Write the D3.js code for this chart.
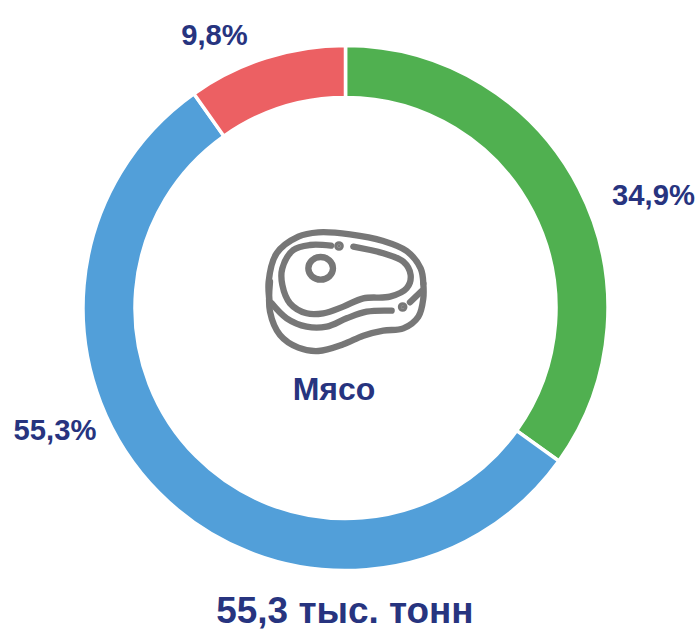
<!DOCTYPE html>
<html><head><meta charset="utf-8">
<script src="https://cdn.jsdelivr.net/npm/d3@7"></script>
<style>html,body{margin:0;padding:0;background:#fff}svg{display:block}text{font-family:"Liberation Sans",Arial,sans-serif;font-weight:700;fill:#27347f}</style>
</head><body><svg id="c" width="697" height="629"></svg>
<script>
const categories = ["A","B","C"];
const values = [34.9,55.3,9.8];
const valueLabels = ["34,9%","55,3%","9,8%"];
const colors = ["#50b050","#529fd9","#ec6063"];
const title = "55,3 тыс. тонн";
const centerLabel = "Мясо";

const svg = d3.select("#c");
const g = svg.append("g").attr("transform","translate(345.5,308)");
const pie = d3.pie().sort(null).value(d=>d)(values);
const arc = d3.arc().innerRadius(210.5).outerRadius(262.5);
g.selectAll("path").data(pie).join("path").attr("d",arc)
 .attr("fill",(d,i)=>colors[i]).attr("stroke","#fff").attr("stroke-width",3.5);

const labelPos = [[653.5,195],[55,430],[214.5,35]];
svg.selectAll("text.v").data(valueLabels).join("text").attr("class","v")
 .attr("x",(d,i)=>labelPos[i][0]).attr("y",(d,i)=>labelPos[i][1])
 .attr("text-anchor","middle").attr("dominant-baseline","central")
 .attr("font-size",29.2).text(d=>d);
svg.append("text").attr("x",334).attr("y",389).attr("text-anchor","middle").attr("dominant-baseline","central").attr("font-size",32).text(centerLabel);
svg.append("text").attr("x",345).attr("y",610).attr("text-anchor","middle").attr("dominant-baseline","central").attr("font-size",36.9).text(title);

// icon, traced in zoom-crop units
const icon = svg.append("g").attr("transform","translate(250,215) scale(0.3333)")
 .attr("fill","none").attr("stroke","#777").attr("stroke-width",19).attr("stroke-linecap","round");
const L = d3.line().curve(d3.curveCatmullRom.alpha(0.5));
const paths = [
 [[60,270],[56,200],[80,115],[145,65],[205,52],[300,58],[400,78],[470,108],[512,160],[520,205]],
 [[515,228],[480,262]],
 [[60,200],[60,290],[90,360],[145,398],[205,408],[280,388],[340,362],[400,347],[460,340],[505,305],[520,250],[520,205]],
 [[65,265],[110,310],[170,335],[230,335],[290,310],[350,290],[425,287]],
 [[243,92],[180,90],[130,105],[97,160],[97,210],[120,265],[170,295],[220,295],[280,275],[340,250],[420,245],[470,220],[482,180],[460,140],[400,115],[310,95]]
];
icon.selectAll("path").data(paths).join("path").attr("d",L);
icon.append("ellipse").attr("cx",212).attr("cy",160).attr("rx",37).attr("ry",34);
icon.selectAll("circle.d").data([[267,93],[458,276]]).join("circle").attr("class","d")
 .attr("cx",d=>d[0]).attr("cy",d=>d[1]).attr("r",5).attr("fill","#777");
</script></body></html>
